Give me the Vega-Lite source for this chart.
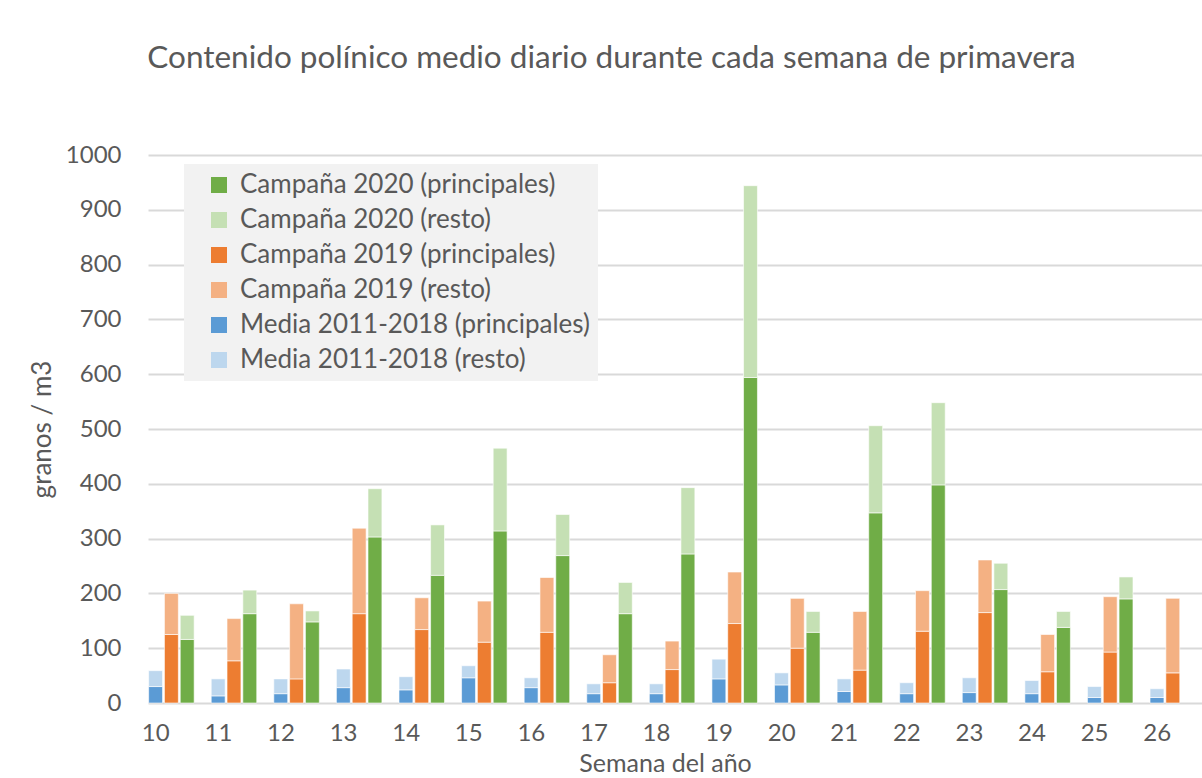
{
  "$schema": "https://vega.github.io/schema/vega-lite/v6.json",
  "autosize": {"type": "none"},
  "width": 1035,
  "height": 548,
  "padding": {"left": 148, "top": 155, "right": 19, "bottom": 75},
  "background": "white",
  "config": {"font": "Lato", "view": {"stroke": null}},
  "title": {
    "text": "Contenido polínico medio diario durante cada semana de primavera",
    "font": "Lato",
    "fontSize": 31.5,
    "fontWeight": "normal",
    "color": "#595959",
    "anchor": "middle",
    "frame": "group",
    "baseline": "alphabetic",
    "dx": -54,
    "offset": 44
  },
  "data": {
    "values": [
      {"semana": 10, "grupo": "Media", "tipo": "principales", "serie": "Media 2011-2018 (principales)", "valor": 30},
      {"semana": 10, "grupo": "Media", "tipo": "resto", "serie": "Media 2011-2018 (resto)", "valor": 29},
      {"semana": 10, "grupo": "2019", "tipo": "principales", "serie": "Campaña 2019 (principales)", "valor": 125},
      {"semana": 10, "grupo": "2019", "tipo": "resto", "serie": "Campaña 2019 (resto)", "valor": 75},
      {"semana": 10, "grupo": "2020", "tipo": "principales", "serie": "Campaña 2020 (principales)", "valor": 116},
      {"semana": 10, "grupo": "2020", "tipo": "resto", "serie": "Campaña 2020 (resto)", "valor": 44},

      {"semana": 11, "grupo": "Media", "tipo": "principales", "serie": "Media 2011-2018 (principales)", "valor": 13},
      {"semana": 11, "grupo": "Media", "tipo": "resto", "serie": "Media 2011-2018 (resto)", "valor": 31},
      {"semana": 11, "grupo": "2019", "tipo": "principales", "serie": "Campaña 2019 (principales)", "valor": 77},
      {"semana": 11, "grupo": "2019", "tipo": "resto", "serie": "Campaña 2019 (resto)", "valor": 77},
      {"semana": 11, "grupo": "2020", "tipo": "principales", "serie": "Campaña 2020 (principales)", "valor": 163},
      {"semana": 11, "grupo": "2020", "tipo": "resto", "serie": "Campaña 2020 (resto)", "valor": 43},

      {"semana": 12, "grupo": "Media", "tipo": "principales", "serie": "Media 2011-2018 (principales)", "valor": 17},
      {"semana": 12, "grupo": "Media", "tipo": "resto", "serie": "Media 2011-2018 (resto)", "valor": 27},
      {"semana": 12, "grupo": "2019", "tipo": "principales", "serie": "Campaña 2019 (principales)", "valor": 44},
      {"semana": 12, "grupo": "2019", "tipo": "resto", "serie": "Campaña 2019 (resto)", "valor": 137},
      {"semana": 12, "grupo": "2020", "tipo": "principales", "serie": "Campaña 2020 (principales)", "valor": 148},
      {"semana": 12, "grupo": "2020", "tipo": "resto", "serie": "Campaña 2020 (resto)", "valor": 20},

      {"semana": 13, "grupo": "Media", "tipo": "principales", "serie": "Media 2011-2018 (principales)", "valor": 28},
      {"semana": 13, "grupo": "Media", "tipo": "resto", "serie": "Media 2011-2018 (resto)", "valor": 34},
      {"semana": 13, "grupo": "2019", "tipo": "principales", "serie": "Campaña 2019 (principales)", "valor": 163},
      {"semana": 13, "grupo": "2019", "tipo": "resto", "serie": "Campaña 2019 (resto)", "valor": 156},
      {"semana": 13, "grupo": "2020", "tipo": "principales", "serie": "Campaña 2020 (principales)", "valor": 303},
      {"semana": 13, "grupo": "2020", "tipo": "resto", "serie": "Campaña 2020 (resto)", "valor": 88},

      {"semana": 14, "grupo": "Media", "tipo": "principales", "serie": "Media 2011-2018 (principales)", "valor": 24},
      {"semana": 14, "grupo": "Media", "tipo": "resto", "serie": "Media 2011-2018 (resto)", "valor": 24},
      {"semana": 14, "grupo": "2019", "tipo": "principales", "serie": "Campaña 2019 (principales)", "valor": 134},
      {"semana": 14, "grupo": "2019", "tipo": "resto", "serie": "Campaña 2019 (resto)", "valor": 58},
      {"semana": 14, "grupo": "2020", "tipo": "principales", "serie": "Campaña 2020 (principales)", "valor": 233},
      {"semana": 14, "grupo": "2020", "tipo": "resto", "serie": "Campaña 2020 (resto)", "valor": 92},

      {"semana": 15, "grupo": "Media", "tipo": "principales", "serie": "Media 2011-2018 (principales)", "valor": 46},
      {"semana": 15, "grupo": "Media", "tipo": "resto", "serie": "Media 2011-2018 (resto)", "valor": 22},
      {"semana": 15, "grupo": "2019", "tipo": "principales", "serie": "Campaña 2019 (principales)", "valor": 111},
      {"semana": 15, "grupo": "2019", "tipo": "resto", "serie": "Campaña 2019 (resto)", "valor": 75},
      {"semana": 15, "grupo": "2020", "tipo": "principales", "serie": "Campaña 2020 (principales)", "valor": 314},
      {"semana": 15, "grupo": "2020", "tipo": "resto", "serie": "Campaña 2020 (resto)", "valor": 151},

      {"semana": 16, "grupo": "Media", "tipo": "principales", "serie": "Media 2011-2018 (principales)", "valor": 28},
      {"semana": 16, "grupo": "Media", "tipo": "resto", "serie": "Media 2011-2018 (resto)", "valor": 18},
      {"semana": 16, "grupo": "2019", "tipo": "principales", "serie": "Campaña 2019 (principales)", "valor": 129},
      {"semana": 16, "grupo": "2019", "tipo": "resto", "serie": "Campaña 2019 (resto)", "valor": 100},
      {"semana": 16, "grupo": "2020", "tipo": "principales", "serie": "Campaña 2020 (principales)", "valor": 269},
      {"semana": 16, "grupo": "2020", "tipo": "resto", "serie": "Campaña 2020 (resto)", "valor": 75},

      {"semana": 17, "grupo": "Media", "tipo": "principales", "serie": "Media 2011-2018 (principales)", "valor": 17},
      {"semana": 17, "grupo": "Media", "tipo": "resto", "serie": "Media 2011-2018 (resto)", "valor": 18},
      {"semana": 17, "grupo": "2019", "tipo": "principales", "serie": "Campaña 2019 (principales)", "valor": 37},
      {"semana": 17, "grupo": "2019", "tipo": "resto", "serie": "Campaña 2019 (resto)", "valor": 51},
      {"semana": 17, "grupo": "2020", "tipo": "principales", "serie": "Campaña 2020 (principales)", "valor": 163},
      {"semana": 17, "grupo": "2020", "tipo": "resto", "serie": "Campaña 2020 (resto)", "valor": 57},

      {"semana": 18, "grupo": "Media", "tipo": "principales", "serie": "Media 2011-2018 (principales)", "valor": 17},
      {"semana": 18, "grupo": "Media", "tipo": "resto", "serie": "Media 2011-2018 (resto)", "valor": 18},
      {"semana": 18, "grupo": "2019", "tipo": "principales", "serie": "Campaña 2019 (principales)", "valor": 61},
      {"semana": 18, "grupo": "2019", "tipo": "resto", "serie": "Campaña 2019 (resto)", "valor": 52},
      {"semana": 18, "grupo": "2020", "tipo": "principales", "serie": "Campaña 2020 (principales)", "valor": 272},
      {"semana": 18, "grupo": "2020", "tipo": "resto", "serie": "Campaña 2020 (resto)", "valor": 121},

      {"semana": 19, "grupo": "Media", "tipo": "principales", "serie": "Media 2011-2018 (principales)", "valor": 44},
      {"semana": 19, "grupo": "Media", "tipo": "resto", "serie": "Media 2011-2018 (resto)", "valor": 36},
      {"semana": 19, "grupo": "2019", "tipo": "principales", "serie": "Campaña 2019 (principales)", "valor": 145},
      {"semana": 19, "grupo": "2019", "tipo": "resto", "serie": "Campaña 2019 (resto)", "valor": 94},
      {"semana": 19, "grupo": "2020", "tipo": "principales", "serie": "Campaña 2020 (principales)", "valor": 594},
      {"semana": 19, "grupo": "2020", "tipo": "resto", "serie": "Campaña 2020 (resto)", "valor": 350},

      {"semana": 20, "grupo": "Media", "tipo": "principales", "serie": "Media 2011-2018 (principales)", "valor": 33},
      {"semana": 20, "grupo": "Media", "tipo": "resto", "serie": "Media 2011-2018 (resto)", "valor": 22},
      {"semana": 20, "grupo": "2019", "tipo": "principales", "serie": "Campaña 2019 (principales)", "valor": 100},
      {"semana": 20, "grupo": "2019", "tipo": "resto", "serie": "Campaña 2019 (resto)", "valor": 91},
      {"semana": 20, "grupo": "2020", "tipo": "principales", "serie": "Campaña 2020 (principales)", "valor": 129},
      {"semana": 20, "grupo": "2020", "tipo": "resto", "serie": "Campaña 2020 (resto)", "valor": 38},

      {"semana": 21, "grupo": "Media", "tipo": "principales", "serie": "Media 2011-2018 (principales)", "valor": 21},
      {"semana": 21, "grupo": "Media", "tipo": "resto", "serie": "Media 2011-2018 (resto)", "valor": 23},
      {"semana": 21, "grupo": "2019", "tipo": "principales", "serie": "Campaña 2019 (principales)", "valor": 60},
      {"semana": 21, "grupo": "2019", "tipo": "resto", "serie": "Campaña 2019 (resto)", "valor": 107},
      {"semana": 21, "grupo": "2020", "tipo": "principales", "serie": "Campaña 2020 (principales)", "valor": 347},
      {"semana": 21, "grupo": "2020", "tipo": "resto", "serie": "Campaña 2020 (resto)", "valor": 159},

      {"semana": 22, "grupo": "Media", "tipo": "principales", "serie": "Media 2011-2018 (principales)", "valor": 17},
      {"semana": 22, "grupo": "Media", "tipo": "resto", "serie": "Media 2011-2018 (resto)", "valor": 20},
      {"semana": 22, "grupo": "2019", "tipo": "principales", "serie": "Campaña 2019 (principales)", "valor": 131},
      {"semana": 22, "grupo": "2019", "tipo": "resto", "serie": "Campaña 2019 (resto)", "valor": 74},
      {"semana": 22, "grupo": "2020", "tipo": "principales", "serie": "Campaña 2020 (principales)", "valor": 398},
      {"semana": 22, "grupo": "2020", "tipo": "resto", "serie": "Campaña 2020 (resto)", "valor": 150},

      {"semana": 23, "grupo": "Media", "tipo": "principales", "serie": "Media 2011-2018 (principales)", "valor": 19},
      {"semana": 23, "grupo": "Media", "tipo": "resto", "serie": "Media 2011-2018 (resto)", "valor": 27},
      {"semana": 23, "grupo": "2019", "tipo": "principales", "serie": "Campaña 2019 (principales)", "valor": 165},
      {"semana": 23, "grupo": "2019", "tipo": "resto", "serie": "Campaña 2019 (resto)", "valor": 96},
      {"semana": 23, "grupo": "2020", "tipo": "principales", "serie": "Campaña 2020 (principales)", "valor": 207},
      {"semana": 23, "grupo": "2020", "tipo": "resto", "serie": "Campaña 2020 (resto)", "valor": 48},

      {"semana": 24, "grupo": "Media", "tipo": "principales", "serie": "Media 2011-2018 (principales)", "valor": 17},
      {"semana": 24, "grupo": "Media", "tipo": "resto", "serie": "Media 2011-2018 (resto)", "valor": 24},
      {"semana": 24, "grupo": "2019", "tipo": "principales", "serie": "Campaña 2019 (principales)", "valor": 57},
      {"semana": 24, "grupo": "2019", "tipo": "resto", "serie": "Campaña 2019 (resto)", "valor": 68},
      {"semana": 24, "grupo": "2020", "tipo": "principales", "serie": "Campaña 2020 (principales)", "valor": 138},
      {"semana": 24, "grupo": "2020", "tipo": "resto", "serie": "Campaña 2020 (resto)", "valor": 29},

      {"semana": 25, "grupo": "Media", "tipo": "principales", "serie": "Media 2011-2018 (principales)", "valor": 10},
      {"semana": 25, "grupo": "Media", "tipo": "resto", "serie": "Media 2011-2018 (resto)", "valor": 20},
      {"semana": 25, "grupo": "2019", "tipo": "principales", "serie": "Campaña 2019 (principales)", "valor": 93},
      {"semana": 25, "grupo": "2019", "tipo": "resto", "serie": "Campaña 2019 (resto)", "valor": 101},
      {"semana": 25, "grupo": "2020", "tipo": "principales", "serie": "Campaña 2020 (principales)", "valor": 190},
      {"semana": 25, "grupo": "2020", "tipo": "resto", "serie": "Campaña 2020 (resto)", "valor": 40},

      {"semana": 26, "grupo": "Media", "tipo": "principales", "serie": "Media 2011-2018 (principales)", "valor": 10},
      {"semana": 26, "grupo": "Media", "tipo": "resto", "serie": "Media 2011-2018 (resto)", "valor": 16},
      {"semana": 26, "grupo": "2019", "tipo": "principales", "serie": "Campaña 2019 (principales)", "valor": 55},
      {"semana": 26, "grupo": "2019", "tipo": "resto", "serie": "Campaña 2019 (resto)", "valor": 136}
    ]
  },
  "mark": {"type": "bar", "stroke": "white", "strokeWidth": 0.6},
  "encoding": {
    "x": {
      "field": "semana",
      "type": "ordinal",
      "scale": {"range": [0, 1064], "paddingInner": 0, "paddingOuter": 0},
      "axis": {
        "title": "Semana del año",
        "titleFont": "Lato",
        "titleFontSize": 25,
        "titleFontWeight": "normal",
        "titleColor": "#595959",
        "titleX": 517,
        "titleY": 68,
        "titleBaseline": "alphabetic",
        "titleAnchor": "start",
        "titleAlign": "center",
        "labelAngle": 0,
        "labelFontSize": 24,
        "labelColor": "#595959",
        "labelOffset": -23.5,
        "labelPadding": 18,
        "domain": false,
        "ticks": false,
        "grid": false
      }
    },
    "xOffset": {
      "field": "grupo",
      "type": "nominal",
      "scale": {"domain": ["Media", "2019", "2020", "_"], "paddingInner": 0.12, "paddingOuter": 0.04}
    },
    "y": {
      "field": "valor",
      "type": "quantitative",
      "stack": "zero",
      "scale": {"domain": [0, 1000], "nice": false},
      "axis": {
        "title": "granos / m3",
        "titleFont": "Lato",
        "titleFontSize": 26,
        "titleFontWeight": "normal",
        "titleColor": "#595959",
        "titlePadding": 10,
        "values": [0, 100, 200, 300, 400, 500, 600, 700, 800, 900, 1000],
        "format": "d",
        "labelFontSize": 24,
        "labelColor": "#595959",
        "labelPadding": 27,
        "domain": false,
        "ticks": false,
        "grid": true,
        "gridColor": "#d9d9d9",
        "gridWidth": 1.8
      }
    },
    "color": {
      "field": "serie",
      "type": "nominal",
      "scale": {
        "domain": [
          "Campaña 2020 (principales)",
          "Campaña 2020 (resto)",
          "Campaña 2019 (principales)",
          "Campaña 2019 (resto)",
          "Media 2011-2018 (principales)",
          "Media 2011-2018 (resto)"
        ],
        "range": ["#70ad47", "#c5e0b4", "#ed7d31", "#f4b183", "#5b9bd5", "#bdd7ee"]
      },
      "legend": {
        "title": null,
        "orient": "none",
        "legendX": 36,
        "legendY": 9,
        "fillColor": "#f2f2f2",
        "padding": 8,
        "symbolType": "square",
        "symbolSize": 256,
        "symbolStrokeWidth": 0,
        "symbolOffset": 14,
        "labelFont": "Lato",
        "labelFontSize": 26,
        "labelColor": "#595959",
        "labelLimit": 500,
        "labelOffset": 8,
        "rowPadding": 9
      }
    },
    "order": {"field": "tipo", "sort": "ascending"}
  }
}
